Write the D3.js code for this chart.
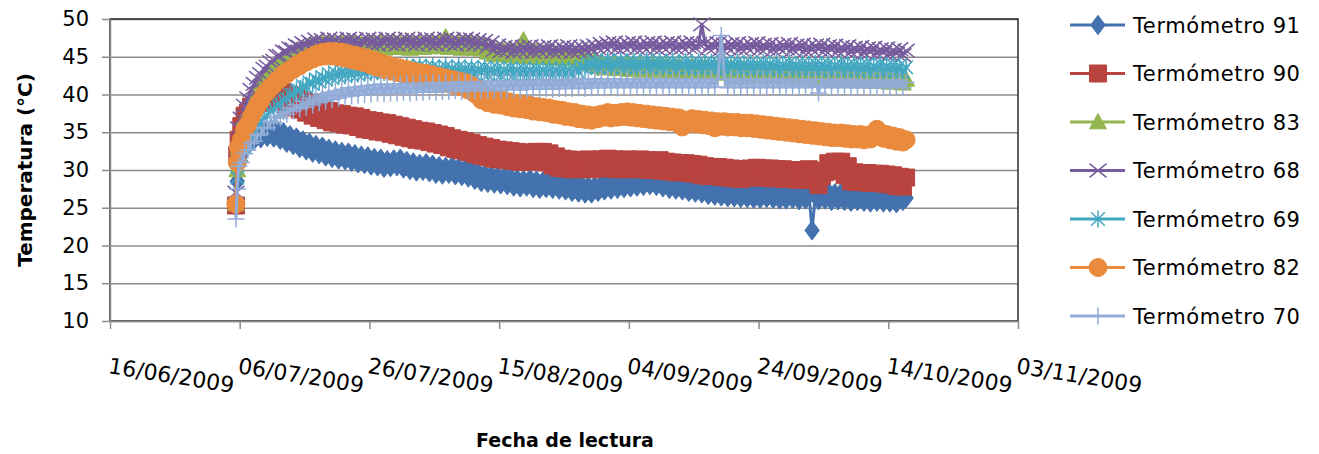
<!DOCTYPE html>
<html><head><meta charset="utf-8">
<script src="https://cdn.jsdelivr.net/npm/d3@7"></script>
<style>body{margin:0;background:#fff} svg{display:block} text{font-family:"DejaVu Sans",sans-serif;fill:#000}</style>
</head><body><svg id="c" width="1319" height="454"></svg>
<script>
const tickLabels = ["16/06/2009","06/07/2009","26/07/2009","15/08/2009","04/09/2009","24/09/2009","14/10/2009","03/11/2009"];
const yTicks = [10,15,20,25,30,35,40,45,50];
const seriesNames = ["Termómetro 91","Termómetro 90","Termómetro 83","Termómetro 68","Termómetro 69","Termómetro 82","Termómetro 70"];
const earlyTimes = ["2009-07-05T10:00","2009-07-05T15:00","2009-07-05T20:00"];
const firstDay = "2009-07-06", lastDay = "2009-10-16";
const readingHours = [6, 18];

const t91 = [25.2,28.5,31.0,
32.0,33.0, 33.3,33.9, 34.0,34.6, 34.2,35.2, 34.4,35.4,
34.3,35.3, 34.0,35.0, 33.6,34.6, 33.3,34.3, 32.9,33.9,
32.6,33.6, 32.3,33.3, 32.1,33.1, 31.8,32.8, 31.6,32.6,
31.4,32.4, 31.3,32.3, 31.1,32.1, 30.9,31.9, 30.8,31.8,
30.6,31.6, 30.5,31.5, 30.3,31.3, 30.4,31.4, 30.5,31.5,
30.2,31.2, 30.0,31.0, 29.8,30.8, 29.9,30.9, 29.7,30.7,
29.5,30.5, 29.4,30.4, 29.5,30.5, 29.3,30.3, 29.2,30.2,
29.0,30.0, 28.7,29.7, 28.4,29.4, 28.3,29.3, 28.2,29.2,
28.1,29.1, 28.0,29.0, 27.8,28.8, 27.7,28.7, 27.8,28.8,
27.6,28.6, 27.5,28.5, 27.6,28.6, 27.5,28.5, 27.4,28.4,
27.3,28.3, 27.1,28.1, 27.0,28.0, 26.9,27.9, 26.9,27.9,
27.1,28.1, 27.3,28.3, 27.4,28.4, 27.5,28.5, 27.6,28.6,
27.7,28.7, 27.8,28.8, 27.9,28.9, 28.0,29.0, 27.9,28.9,
27.7,28.7, 27.5,28.5, 27.4,28.4, 27.3,28.3, 27.1,28.1,
27.0,28.0, 26.9,27.9, 26.7,27.7, 26.6,27.6, 26.5,27.5,
26.4,27.4, 26.4,27.4, 26.3,27.3, 26.3,27.3, 26.2,27.2,
26.2,27.2, 26.3,27.3, 26.2,27.2, 26.1,27.1, 26.1,27.1,
26.2,27.2, 26.0,27.0, 26.1,27.1, 22.0,26.6, 26.0,27.0,
26.1,27.1, 25.9,26.9, 26.0,27.0, 25.9,26.9, 25.8,26.8,
25.9,26.9, 25.8,26.8, 25.7,26.7, 25.8,26.8, 25.7,26.7,
25.7,26.7, 25.6,26.6, 25.9,26.3];
const t90 = [25.3,32.0,34.0,
35.8,37.2, 37.6,38.4, 38.6,39.4, 38.9,40.1, 39.2,40.4,
39.4,40.6, 39.1,40.3, 38.7,39.9, 38.3,39.5, 38.0,39.2,
37.6,38.8, 37.2,38.4, 36.9,38.1, 36.6,37.8, 36.3,37.5,
36.2,37.4, 36.0,37.2, 35.9,37.1, 35.7,36.9, 35.4,36.6,
35.3,36.5, 35.1,36.3, 35.0,36.2, 34.8,36.0, 34.6,35.8,
34.4,35.6, 34.2,35.4, 34.0,35.2, 33.9,35.1, 33.7,34.9,
33.5,34.7, 33.3,34.5, 33.0,34.2, 32.8,34.0, 32.6,33.8,
32.4,33.6, 32.1,33.3, 31.9,33.1, 31.7,32.9, 31.5,32.7,
31.4,32.6, 31.3,32.5, 31.2,32.4, 31.1,32.3, 31.1,32.3,
31.2,32.4, 31.2,32.4, 31.0,32.2, 30.6,31.8, 30.3,31.5,
30.2,31.4, 30.1,31.3, 30.1,31.3, 30.2,31.4, 30.1,31.3,
30.2,31.4, 30.3,31.5, 30.2,31.4, 30.1,31.3, 30.2,31.4,
30.1,31.3, 30.2,31.4, 30.1,31.3, 30.0,31.2, 30.1,31.3,
29.9,31.1, 29.8,31.0, 29.7,30.9, 29.7,30.9, 29.6,30.8,
29.5,30.7, 29.3,30.5, 29.2,30.4, 29.2,30.4, 29.1,30.3,
29.0,30.2, 28.9,30.1, 28.8,30.0, 29.0,30.2, 29.1,30.3,
29.0,30.2, 29.0,30.2, 28.9,30.1, 28.9,30.1, 28.8,30.0,
28.8,30.0, 28.7,29.9, 28.9,30.1, 28.7,29.9, 28.0,29.2,
29.7,30.9, 29.9,31.1, 29.9,31.1, 29.3,30.5, 28.5,29.7,
28.4,29.6, 28.4,29.6, 28.3,29.5, 28.3,29.5, 28.2,29.4,
28.1,29.3, 27.9,29.1, 27.8,29.0];
const t83 = [25.5,30.0,33.0,
34.2,36.8, 37.8,39.2, 40.0,41.0, 41.6,42.4, 42.7,43.4,
43.7,44.3, 44.4,45.0, 45.0,45.4, 45.4,45.8, 45.7,46.1,
45.9,46.5, 46.1,46.7, 46.2,46.8, 46.3,46.9, 46.1,46.7,
46.3,46.9, 46.2,46.8, 46.4,47.0, 46.1,46.7, 46.3,46.9,
46.2,46.8, 46.4,47.0, 46.1,46.7, 46.3,46.9, 46.2,46.8,
46.4,47.0, 46.1,46.7, 46.3,46.9, 46.2,46.8, 46.3,46.9,
46.4,47.0, 46.3,47.6, 46.2,46.8, 46.3,46.9, 46.1,46.7,
46.3,46.9, 46.1,46.7, 46.0,46.6, 45.6,46.2, 45.3,45.9,
45.2,45.8, 45.3,45.9, 45.1,45.7, 45.0,47.2, 45.0,45.6,
45.1,45.7, 44.9,45.5, 45.0,45.6, 44.8,45.4, 44.9,45.5,
44.7,45.3, 44.8,45.4, 44.5,45.1, 44.3,44.9, 44.0,44.6,
43.7,44.3, 43.5,44.1, 43.6,44.2, 43.4,44.0, 43.5,44.1,
43.3,43.9, 43.4,44.0, 43.2,43.8, 43.3,43.9, 43.2,43.8,
43.3,43.9, 43.1,43.7, 43.3,43.9, 43.0,43.6, 43.2,43.8,
43.0,43.6, 43.1,43.7, 42.9,43.5, 43.1,43.7, 42.8,43.4,
43.0,43.6, 42.7,43.3, 42.9,43.5, 42.6,43.2, 42.8,43.4,
42.5,43.1, 42.7,43.3, 42.4,43.0, 42.6,43.2, 42.3,42.9,
42.5,43.1, 42.2,42.8, 42.4,43.0, 42.1,42.7, 42.3,42.9,
42.1,42.7, 42.2,42.8, 42.0,42.6, 42.2,42.8, 41.9,42.5,
42.1,42.7, 41.8,42.4, 42.0,42.6, 41.7,42.3, 41.9,42.5,
41.6,42.2, 41.8,42.4, 41.5,42.0];
const t68 = [27.0,32.0,35.5,
36.8,38.5, 39.5,40.6, 41.4,42.2, 42.7,43.4, 43.7,44.3,
44.5,45.1, 45.1,45.7, 45.6,46.1, 46.0,46.5, 46.3,46.8,
46.5,47.0, 46.7,47.3, 46.6,47.2, 46.8,47.4, 46.7,47.3,
46.6,47.2, 46.8,47.4, 46.7,47.3, 46.6,47.2, 46.8,47.4,
46.7,47.3, 46.6,47.2, 46.8,47.4, 46.7,47.3, 46.6,47.2,
46.8,47.4, 46.7,47.3, 46.6,47.2, 46.8,47.4, 46.7,47.3,
46.6,47.2, 46.8,47.4, 46.7,47.3, 46.6,47.2, 46.8,47.4,
46.7,47.3, 46.6,47.2, 46.6,47.1, 46.3,46.9, 45.9,46.5,
45.7,46.3, 45.8,46.4, 45.6,46.2, 45.7,46.3, 45.8,46.4,
45.6,46.2, 45.7,46.3, 45.8,46.4, 45.6,46.2, 45.7,46.3,
45.8,46.4, 45.6,46.2, 45.7,46.3, 45.8,46.4, 45.9,46.5,
46.1,46.7, 46.2,46.8, 46.3,46.9, 46.1,46.7, 46.2,46.8,
46.3,46.9, 46.1,46.7, 46.2,46.8, 46.3,46.9, 46.1,46.7,
46.2,46.8, 46.3,46.9, 46.1,46.7, 46.2,46.8, 46.3,46.9,
46.1,46.7, 49.3,46.8, 46.1,46.7, 46.2,46.8, 46.0,46.6,
46.1,46.7, 46.2,46.8, 46.0,46.6, 46.1,46.7, 46.2,46.8,
46.0,46.6, 46.1,46.7, 45.9,46.5, 46.0,46.6, 46.1,46.7,
45.9,46.5, 46.0,46.6, 45.8,46.4, 45.9,46.5, 46.0,46.6,
45.8,46.4, 45.9,46.5, 45.7,46.3, 45.8,46.4, 45.6,46.2,
45.7,46.3, 45.5,46.1, 45.6,46.2, 45.4,46.0, 45.5,46.1,
45.3,45.9, 45.4,46.0, 45.2,45.8];
const t69 = [25.5,29.0,31.5,
32.0,33.0, 33.6,34.4, 35.0,35.7, 36.2,36.9, 37.2,37.8,
38.0,38.6, 38.7,39.3, 39.4,40.0, 40.0,40.6, 40.5,41.1,
41.0,41.6, 41.4,42.0, 41.7,42.3, 42.0,42.7, 42.2,42.9,
42.4,43.1, 42.5,43.2, 42.6,43.3, 42.7,43.4, 42.8,43.5,
42.9,43.6, 43.0,43.8, 42.9,43.6, 43.1,43.8, 42.9,43.6,
43.0,43.8, 42.9,43.6, 43.1,43.8, 42.9,43.6, 43.0,43.7,
42.8,43.5, 43.0,43.7, 42.8,43.5, 42.9,43.7, 42.8,43.5,
42.9,43.6, 42.7,43.4, 42.9,43.6, 42.7,43.4, 42.8,43.5,
42.6,43.3, 42.8,43.5, 42.6,43.3, 42.7,43.4, 42.6,43.3,
42.7,43.4, 42.6,43.3, 42.7,43.4, 42.6,43.3, 42.7,43.4,
42.6,43.3, 42.7,43.4, 43.0,43.7, 43.5,44.2, 43.7,44.4,
43.6,44.3, 43.8,44.5, 43.6,44.3, 43.8,44.5, 43.6,44.3,
43.7,44.4, 43.6,44.3, 43.8,44.5, 43.6,44.3, 43.7,44.4,
43.6,44.3, 43.7,44.4, 43.5,44.2, 43.7,44.4, 43.5,44.2,
43.6,44.3, 43.5,44.2, 43.6,44.3, 43.5,44.2, 43.6,44.3,
43.4,44.1, 43.6,44.3, 43.4,44.1, 43.5,44.2, 43.4,44.1,
43.5,44.2, 43.4,44.1, 43.5,44.2, 43.3,44.0, 43.5,44.2,
43.3,44.0, 43.4,44.1, 43.3,44.0, 43.4,44.1, 43.3,44.0,
43.4,44.1, 43.2,43.9, 43.4,44.1, 43.2,43.9, 43.3,44.0,
43.2,43.9, 43.3,44.0, 43.1,43.8, 43.3,44.0, 43.1,43.8,
43.2,43.9, 43.1,43.8, 43.0,43.6];
const t82 = [25.5,31.0,33.0,
34.0,35.3, 36.0,37.0, 37.8,38.6, 39.2,40.0, 40.4,41.0,
41.3,41.9, 42.1,42.7, 42.7,43.3, 43.3,43.9, 43.8,44.4,
44.3,44.9, 44.7,45.3, 45.0,45.6, 45.1,45.7, 45.1,45.7,
45.0,45.6, 44.8,45.4, 44.6,45.2, 44.4,45.0, 44.2,44.8,
43.9,44.5, 43.6,44.2, 43.3,43.9, 43.1,43.7, 42.9,43.5,
42.7,43.3, 42.5,43.1, 42.3,42.9, 42.2,42.8, 42.0,42.6,
41.8,42.4, 41.6,42.2, 41.4,42.0, 41.2,41.8, 41.0,41.6,
40.6,41.2, 40.1,40.7, 39.3,39.9, 38.9,39.5, 38.7,39.3,
38.6,39.2, 38.4,39.0, 38.2,38.8, 38.1,38.7, 38.0,38.6,
37.8,38.4, 37.7,38.3, 37.6,38.2, 37.4,38.0, 37.3,37.9,
37.1,37.7, 37.0,37.6, 36.8,37.4, 36.7,37.3, 36.6,37.2,
36.8,37.4, 37.0,37.6, 36.9,37.5, 37.0,37.6, 37.1,37.7,
37.0,37.6, 36.9,37.5, 36.8,37.4, 36.7,37.3, 36.6,37.2,
36.5,37.1, 36.4,37.0, 36.3,36.9, 35.7,36.6, 36.2,36.8,
36.1,36.7, 36.0,36.6, 35.9,36.5, 35.6,36.4, 35.8,36.4,
35.7,36.3, 35.7,36.3, 35.6,36.2, 35.6,36.2, 35.5,36.1,
35.4,36.0, 35.3,35.9, 35.2,35.8, 35.1,35.7, 35.0,35.6,
34.9,35.5, 34.8,35.4, 34.7,35.3, 34.6,35.2, 34.5,35.1,
34.4,35.0, 34.3,34.9, 34.3,34.9, 34.2,34.8, 34.1,34.7,
34.1,34.7, 34.0,34.6, 34.1,34.8, 35.4,34.9, 34.2,34.7,
34.0,34.5, 33.8,34.3, 33.7,34.0];
const t70 = [23.5,27.5,30.5,
31.0,32.2, 32.6,33.5, 33.8,34.6, 34.8,35.6, 35.6,36.4,
36.3,37.1, 36.9,37.7, 37.4,38.2, 37.8,38.6, 38.1,39.1,
38.3,39.5, 38.6,39.8, 38.9,40.1, 39.1,40.3, 39.3,40.5,
39.5,40.7, 39.7,40.9, 39.8,41.0, 39.9,41.1, 40.0,41.2,
40.1,41.3, 40.2,41.4, 40.1,41.3, 40.2,41.4, 40.2,41.4,
40.3,41.5, 40.2,41.4, 40.3,41.5, 40.3,41.5, 40.4,41.6,
40.3,41.5, 40.4,41.6, 40.4,41.6, 40.5,41.7, 40.4,41.6,
40.5,41.7, 40.5,41.7, 40.5,41.7, 40.6,41.8, 40.5,41.7,
40.6,41.8, 40.6,41.8, 40.7,41.9, 40.6,41.8, 40.7,41.9,
40.7,41.9, 40.7,41.9, 40.8,42.0, 40.7,41.9, 40.8,42.0,
40.8,42.0, 40.8,42.0, 40.9,42.1, 40.8,42.0, 40.9,42.1,
40.9,42.1, 40.9,42.1, 41.0,42.1, 40.9,42.1, 41.0,42.1,
40.9,42.1, 41.0,42.1, 40.9,42.1, 41.0,42.1, 40.9,42.1,
41.0,42.1, 40.9,42.1, 41.0,42.1, 40.9,42.1, 41.0,42.1,
40.9,42.1, 41.0,42.1, 40.9,42.1, 41.0,42.1, 47.8,42.1,
40.9,42.1, 41.0,42.1, 40.9,42.1, 41.0,42.1, 40.9,42.1,
41.0,42.1, 40.9,42.1, 41.0,42.1, 40.9,42.0, 41.0,42.0,
40.9,42.0, 41.0,42.0, 40.9,42.0, 41.0,42.0, 40.2,42.0,
40.9,42.0, 41.0,42.0, 40.9,42.0, 41.0,42.0, 40.9,42.0,
40.9,41.9, 41.0,41.9, 40.9,41.9, 41.0,41.9, 40.9,41.9,
40.9,41.9, 41.0,41.9, 40.9,41.6];

const seriesValues = [t91,t90,t83,t68,t69,t82,t70];
const colors = ["#4372AE","#B8433F","#93B651","#775B9E","#43A7C2","#EA8A3D","#92ACD8"];
const markerTypes = ["diamond","square","triangle","x","star","circle","plus"];

const svg = d3.select("#c");
const L=110,R=1018,T=19,B=321;
const parseDMY = d3.utcParse("%d/%m/%Y");
const parseT = d3.utcParse("%Y-%m-%dT%H:%M");
const parseD = d3.utcParse("%Y-%m-%d");
const days = d3.utcDay.range(parseD(firstDay), d3.utcDay.offset(parseD(lastDay),1));
const dates = earlyTimes.map(parseT).concat(days.flatMap(d => readingHours.map(h => d3.utcHour.offset(d, h))));
const tickDates = tickLabels.map(parseDMY);
const x = d3.scaleUtc().domain([tickDates[0], tickDates[tickDates.length-1]]).range([L,R]);
const y = d3.scaleLinear().domain([10,50]).range([B,T]);

// gridlines
svg.append("g").attr("transform",`translate(${L},0)`)
  .call(d3.axisLeft(y).tickValues(yTicks).tickSize(-(R-L)).tickFormat(""))
  .call(g=>g.select(".domain").remove())
  .call(g=>g.selectAll("line").attr("stroke","#8c8c8c").attr("stroke-width",1.5));
svg.append("rect").attr("x",L).attr("y",T).attr("width",R-L).attr("height",B-T)
  .attr("fill","none").attr("stroke","#2a2a2a").attr("stroke-width",1.5);

// y axis
const ya = svg.append("g").attr("transform",`translate(${L},0)`)
  .call(d3.axisLeft(y).tickValues(yTicks).tickSize(8).tickPadding(13).tickSizeOuter(0));
ya.select(".domain").attr("stroke","#8c8c8c").attr("stroke-width",1.5);
ya.selectAll("line").attr("stroke","#8c8c8c").attr("stroke-width",1.5);
ya.selectAll("text").style("font-family","DejaVu Sans").style("font-size","21px").attr("fill","#000");

// x axis
const xa = svg.append("g").attr("transform",`translate(0,${B})`)
  .call(d3.axisBottom(x).tickValues(tickDates).tickSize(8).tickSizeOuter(0)
    .tickFormat((d,i)=>tickLabels[i]));
xa.select(".domain").attr("stroke","#8c8c8c").attr("stroke-width",1.5);
xa.selectAll("line").attr("stroke","#8c8c8c").attr("stroke-width",1.5);
xa.selectAll("text").style("font-family","DejaVu Sans").style("font-size","22px").attr("fill","#000")
  .attr("text-anchor","start").attr("x",0).attr("y",0).attr("dy",0)
  .attr("transform","translate(-3,52) rotate(9)");

// titles
svg.append("text").attr("transform","translate(32,170) rotate(-90)").attr("text-anchor","middle")
  .style("font-weight","bold").style("font-size","20px").text("Temperatura (°C)");
svg.append("text").attr("x",565).attr("y",447).attr("text-anchor","middle")
  .style("font-weight","bold").style("font-size","19px").text("Fecha de lectura");

function markerPath(type, s){
  const h=s/2;
  switch(type){
    case "diamond": return `M0,${-h*1.08}L${h*0.8},0L0,${h*1.08}L${-h*0.8},0Z`;
    case "square": return `M${-h},${-h}H${h}V${h}H${-h}Z`;
    case "triangle": return `M0,${-h}L${h},${h*0.8}L${-h},${h*0.8}Z`;
    case "circle": return d3.symbol(d3.symbolCircle, Math.PI*h*h)();
    case "x": return `M${-h},${-h*0.8}L${h},${h*0.8}M${-h},${h*0.8}L${h},${-h*0.8}`;
    case "star": return `M${-h*0.8},${-h*0.8}L${h*0.8},${h*0.8}M${-h*0.8},${h*0.8}L${h*0.8},${-h*0.8}M0,${-h}V${h}`;
    case "plus": return `M${-h},0H${h}M0,${-h}V${h}`;
  }
}
const markerSize = {diamond:18,square:17,triangle:17,circle:18,x:17,star:17,plus:17};
const filled = t => ["diamond","square","triangle","circle"].includes(t);
function styleMarker(sel, i){
  const t = markerTypes[i];
  sel.attr("d", markerPath(t, markerSize[t]))
    .attr("fill", filled(t) ? colors[i] : "none")
    .attr("stroke", colors[i]).attr("stroke-width", filled(t) ? 1 : 1.5);
}

const line = d3.line().x(d=>x(d[0])).y(d=>y(d[1]));
seriesValues.forEach((vals,i)=>{
  const data = vals.map((v,k)=>[dates[k], v]).filter(d=>d[0]);
  const g = svg.append("g");
  g.append("path").attr("d", line(data)).attr("fill","none")
    .attr("stroke",colors[i]).attr("stroke-width",3).attr("stroke-linejoin","round");
  g.selectAll("path.m").data(data).join("path").attr("class","m")
    .attr("transform",d=>`translate(${x(d[0])},${y(d[1])})`)
    .call(styleMarker, i);
});

// legend
const lg = svg.append("g");
seriesNames.forEach((name,i)=>{
  const cy = 25 + i*48.5;
  lg.append("line").attr("x1",1070).attr("x2",1125).attr("y1",cy).attr("y2",cy)
    .attr("stroke",colors[i]).attr("stroke-width",3);
  lg.append("path").attr("transform",`translate(1098,${cy})`).call(styleMarker, i);
  lg.append("text").attr("x",1133).attr("y",cy+7.5).style("font-size","21px")
    .style("letter-spacing","0.6px").text(name);
});
</script></body></html>
